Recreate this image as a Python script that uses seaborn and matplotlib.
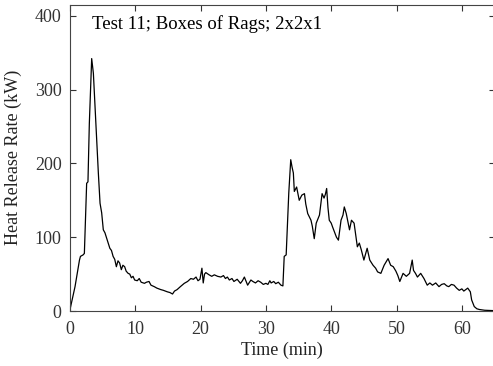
import matplotlib
matplotlib.use("Agg")
import matplotlib.pyplot as plt
import seaborn as sns
import pandas as pd

# Time (min) and heat release rate (kW)
time_min = [0, 0.77, 1.45, 1.6, 2.0, 2.2, 2.55, 2.75, 2.96, 3.32, 3.58, 4.08, 4.34, 4.6, 4.85,
            5.1, 5.35, 5.85, 6.1, 6.35, 6.6, 6.85, 7.1, 7.35, 7.6, 7.86, 8.1, 8.37, 8.6, 8.9,
            9.15, 9.4, 9.65, 9.9, 10.3, 10.6, 10.9, 11.4, 11.7, 12.1, 12.4, 12.9, 13.3, 13.9,
            14.3, 14.9, 15.3, 15.7, 16.0, 16.4, 16.9, 17.5, 18.0, 18.5, 18.9, 19.3, 19.6, 19.9,
            20.2, 20.4, 20.6, 20.8, 21.3, 21.7, 22.1, 22.6, 23.1, 23.5, 23.8, 24.1, 24.4, 24.8,
            25.1, 25.6, 26.1, 26.4, 26.7, 27.2, 27.7, 28.0, 28.4, 28.8, 29.2, 29.6, 30.0, 30.3,
            30.6, 30.8, 31.2, 31.5, 31.9, 32.3, 32.6, 32.8, 33.1, 33.5, 33.8, 34.0, 34.2, 34.35,
            34.7, 35.1, 35.5, 35.9, 36.1, 36.4, 36.9, 37.1, 37.4, 37.7, 38.2, 38.6, 38.9, 39.1,
            39.3, 39.5, 39.7, 40.0, 40.2, 40.5, 40.8, 41.1, 41.5, 41.8, 42.0, 42.3, 42.8, 43.1,
            43.5, 44.0, 44.3, 44.6, 45.0, 45.5, 45.9, 46.4, 46.8, 47.1, 47.6, 48.1, 48.7, 49.1,
            49.5, 49.9, 50.2, 50.5, 51.0, 51.5, 52.0, 52.4, 52.6, 52.9, 53.2, 53.7, 54.2, 54.7,
            55.1, 55.5, 56.0, 56.5, 56.9, 57.3, 57.7, 58.0, 58.4, 58.8, 59.2, 59.6, 60.0, 60.3,
            60.6, 60.9, 61.3, 61.5, 61.9, 62.3, 62.7, 63.5, 64.9]
hrr_kw = [2, 33, 69, 74, 76, 78, 173, 175, 254, 342, 322, 232, 187, 146, 133,
          110, 106, 92, 85, 82, 74, 70, 60, 68, 65, 56, 62, 60, 54, 51,
          50, 45, 47, 42, 41, 44, 39, 37.5, 39, 40, 35, 33, 31, 29,
          28, 26, 25, 23, 27, 29, 33, 37.5, 40, 44, 43, 46, 41, 43,
          58, 38, 50, 52, 49, 47, 49, 47, 46, 48, 44, 46, 42, 44,
          40, 43, 37.5, 41, 46, 35, 42, 40, 38, 41, 39, 36, 37.5, 36,
          41, 38, 40, 37, 39, 35, 34, 74, 76, 160, 205, 195, 187, 162,
          168, 150, 157, 159, 145, 132, 123, 115, 98, 119, 130, 159, 153, 158,
          166, 140, 123, 119, 114, 107, 100, 96, 123, 130, 141, 132, 110, 123,
          119, 87, 92, 83, 69, 85, 69, 62, 58, 53, 51, 62, 71, 62,
          60, 54, 48, 40, 51, 47, 51, 69, 55, 51, 46, 51, 44, 35,
          38, 35, 38, 33, 36, 37, 34, 33, 36, 35, 31, 28, 30, 27,
          29, 31, 26, 15, 6, 3, 2, 1, 0.5]

x_ticks = [0, 10, 20, 30, 40, 50, 60]
y_ticks = [0, 100, 200, 300, 400]
title_text = "Test 11; Boxes of Rags; 2x2x1"

df = pd.DataFrame({"Time (min)": time_min, "HRR": hrr_kw})

sns.set_style("ticks")
plt.rcParams["font.family"] = ["Liberation Serif", "DejaVu Serif"]
FS = 13

fig = plt.figure(figsize=(4.93, 3.66), dpi=100)
W, H = 493, 366
ax = fig.add_axes([70 / W, 55 / H, 424.5 / W, 306.3 / H])

sns.lineplot(data=df, x="Time (min)", y="HRR", ax=ax, color="black", linewidth=0.9)

ax.set_xlim(0, 65)
ax.set_ylim(0, 415)
ax.set_xticks(x_ticks)
ax.set_yticks(y_ticks)
ax.set_xlabel("Time (min)", fontsize=FS, color="#222222", labelpad=3)
ax.set_ylabel("Heat Release Rate (kW)", fontsize=FS, color="#222222", labelpad=9)
ax.tick_params(direction="in", length=4, width=0.8, top=True, right=True,
               labelsize=FS, colors="#333333")
ax.tick_params(axis="x", pad=7)
ax.tick_params(axis="y", pad=6)
for s in ax.spines.values():
    s.set_visible(True)
    s.set_color("#444444")
    s.set_linewidth(0.8)

ax.text(0.052, 0.965, title_text, transform=ax.transAxes, ha="left", va="top",
        fontsize=13.5, color="black")

fig.savefig("out.png", dpi=100)
